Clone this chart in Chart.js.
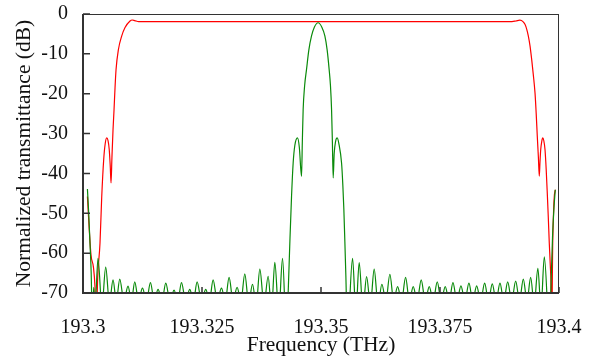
<!DOCTYPE html>
<html>
<head>
<meta charset="utf-8">
<script src="https://cdn.jsdelivr.net/npm/chart.js@4.4.0/dist/chart.umd.min.js"></script>
<style>
  body { margin: 0; background: #fff; }
  #wrap { width: 590px; height: 358px; }
</style>
</head>
<body>
<div id="wrap"><canvas id="chart" width="590" height="358"></canvas></div>
<script>
// frequency axis ticks (THz) and dB ticks
const xTicks = [193.3, 193.325, 193.35, 193.375, 193.4];
const yTicks = [0, -10, -20, -30, -40, -50, -60, -70];

// green: narrow filter response
const greenFreq = [
  193.30093, 193.30120, 193.30147, 193.30172, 193.30193, 193.30225, 193.30256, 193.30315,
  193.30397, 193.30477, 193.30555, 193.30631, 193.30700, 193.30772, 193.30860, 193.30946,
  193.31018, 193.31087, 193.31167, 193.31249, 193.31333, 193.31417, 193.31497, 193.31577,
  193.31659, 193.31739, 193.31827, 193.31913, 193.31991, 193.32069, 193.32157, 193.32243,
  193.32321, 193.32397, 193.32489, 193.32579, 193.32657, 193.32733, 193.32821, 193.32909,
  193.32989, 193.33069, 193.33153, 193.33237, 193.33319, 193.33399, 193.33481, 193.33561,
  193.33639, 193.33715, 193.33803, 193.33889, 193.33961, 193.34030, 193.34112, 193.34192,
  193.34272, 193.34310, 193.34345, 193.34381, 193.34415, 193.34450, 193.34507, 193.34545,
  193.34591, 193.34608, 193.34625, 193.34656, 193.34696, 193.34745, 193.34801, 193.34860,
  193.34940, 193.35018, 193.35081, 193.35129, 193.35171, 193.35199, 193.35222, 193.35239,
  193.35256, 193.35277, 193.35306, 193.35340, 193.35375, 193.35432, 193.35459, 193.35480,
  193.35501, 193.35523, 193.35554, 193.35663, 193.35733, 193.35802, 193.35880, 193.35958,
  193.36038, 193.36117, 193.36199, 193.36279, 193.36363, 193.36447, 193.36527, 193.36609,
  193.36693, 193.36777, 193.36857, 193.36937, 193.37021, 193.37105, 193.37190, 193.37274,
  193.37358, 193.37442, 193.37526, 193.37610, 193.37692, 193.37772, 193.37856, 193.37940,
  193.38024, 193.38108, 193.38188, 193.38270, 193.38354, 193.38438, 193.38518, 193.38598,
  193.38680, 193.38760, 193.38840, 193.38922, 193.39006, 193.39090, 193.39170, 193.39250,
  193.39328, 193.39405, 193.39479, 193.39556, 193.39622, 193.39691, 193.39801, 193.39832,
  193.39864, 193.39895, 193.39922
];
const greenDb = [
  -43.9, -50, -57.5, -65, -76, -68.6, -73, -61.3,
  -73.5, -63.5, -72.5, -66.7, -72, -66.5, -72, -68.3,
  -72, -67.2, -72, -68.8, -72, -67.4, -72, -69.1,
  -72, -67.5, -72, -69.3, -72, -67.4, -72, -69.1,
  -72, -67.2, -72, -69.1, -72, -66.7, -72, -68.8,
  -72, -66.1, -72, -68.6, -72, -65.2, -72.5, -67.8,
  -73, -64, -73, -65.8, -74, -62.3, -75, -61.3,
  -80, -70, -57.5, -45.8, -37.4, -33, -31.1, -33.5,
  -40.7, -32, -24, -18, -13.9, -9, -5.5, -3.3,
  -2.2, -3.3, -5.5, -9, -13.9, -18, -24, -32,
  -41.1, -35, -32, -31.1, -32.5, -37.4, -43, -49,
  -57, -66, -80, -61.3, -75, -62.4, -74, -65.9,
  -73, -64, -73, -67.8, -72, -65.3, -72, -68.4,
  -72, -66.1, -72, -68.4, -72, -66.7, -72, -68.4,
  -72, -67.2, -72, -68.4, -72, -67.4, -72, -68.2,
  -72, -67.5, -72, -68.2, -72, -67.5, -72, -67.7,
  -72, -67.5, -72, -67.2, -72, -67, -72, -66.5,
  -72, -66.1, -73, -63.8, -74, -60.9, -80, -68,
  -56, -48.5, -44.1
];

// red: wide flat-top filter response
const redFreq = [
  193.30093, 193.30126, 193.30168, 193.30219, 193.30252, 193.30278, 193.30309, 193.30357,
  193.30393, 193.30435, 193.30467, 193.30498, 193.30526, 193.30551, 193.30572, 193.30589,
  193.30608, 193.30631, 193.30652, 193.30673, 193.30694, 193.30744, 193.30814, 193.30883,
  193.30988, 193.31034, 193.31087, 193.31171, 193.35081, 193.39012, 193.39096, 193.39180,
  193.39243, 193.39285, 193.39321, 193.39355, 193.39391, 193.39426, 193.39460, 193.39496,
  193.39521, 193.39544, 193.39567, 193.39586, 193.39601, 193.39616, 193.39637, 193.39658,
  193.39681, 193.39706, 193.39731, 193.39754, 193.39775, 193.39796, 193.39817, 193.39832,
  193.39847, 193.39868, 193.39885, 193.39901, 193.39922
];
const redDb = [
  -45.8, -53, -60.5, -63.5, -68.5, -78, -66, -57.5,
  -46, -36.5, -32.5, -31.1, -31.8, -34, -38, -42.4,
  -36, -29, -24, -18.5, -14, -8.9, -5.5, -3.4,
  -1.75, -1.5, -1.65, -1.9, -1.9, -1.9, -1.75, -1.55,
  -1.9, -2.6, -3.8, -5.5, -8, -11.4, -15.2, -19.8,
  -25, -30.7, -36, -40.7, -37, -34, -32, -31.1,
  -31.8, -34, -39, -45, -51, -57.5, -63, -67.6,
  -78, -57.5, -50, -45.8, -44.1
];

const toPoints = (xs, ys) => xs.map((x, i) => ({ x: x, y: ys[i] }));

// box frame and inward tick marks
const framePlugin = {
  id: 'frame',
  afterDraw(chart) {
    const { ctx, chartArea: a, scales } = chart;
    ctx.save();
    ctx.strokeStyle = '#333';
    ctx.lineWidth = 1;
    ctx.strokeRect(a.left, a.top + 0.5, a.right - a.left - 0.5, a.bottom - a.top);
    ctx.lineWidth = 2;
    ctx.beginPath();
    ctx.moveTo(a.left, a.top);
    ctx.lineTo(a.left, a.bottom);
    ctx.lineTo(a.right, a.bottom);
    ctx.stroke();
    ctx.lineWidth = 1.5;
    ctx.beginPath();
    scales.y.ticks.forEach(t => {
      const y = scales.y.getPixelForValue(t.value);
      ctx.moveTo(a.left, y);
      ctx.lineTo(a.left + 7, y);
    });
    scales.x.ticks.forEach(t => {
      const x = scales.x.getPixelForValue(t.value);
      ctx.moveTo(x, a.bottom);
      ctx.lineTo(x, a.bottom - 6);
    });
    ctx.stroke();
    ctx.restore();
  }
};

const serif = '"Liberation Serif", "Times New Roman", serif';

new Chart(document.getElementById('chart'), {
  type: 'line',
  data: {
    datasets: [
      {
        label: 'narrow',
        data: toPoints(greenFreq, greenDb),
        borderColor: '#0a8a0a',
        borderWidth: 1.2,
        pointRadius: 0,
        tension: 0.4,
        cubicInterpolationMode: 'monotone'
      },
      {
        label: 'wide',
        data: toPoints(redFreq, redDb),
        borderColor: '#ff0000',
        borderWidth: 1.2,
        pointRadius: 0,
        tension: 0.4,
        cubicInterpolationMode: 'monotone'
      }
    ]
  },
  options: {
    responsive: false,
    animation: false,
    layout: { padding: { top: 14, right: 31, left: 0, bottom: 0 } },
    plugins: {
      legend: { display: false },
      tooltip: { enabled: false }
    },
    scales: {
      x: {
        type: 'linear',
        min: 193.3,
        max: 193.4,
        afterBuildTicks: scale => { scale.ticks = xTicks.map(v => ({ value: v })); },
        afterFit: scale => {
          scale.height = 65;
          scale.paddingLeft = 0;
          scale.paddingRight = 0;
        },
        grid: { display: false, drawTicks: false },
        border: { display: false },
        ticks: {
          padding: 23,
          color: '#111',
          font: { family: serif, size: 20 },
          callback: v => Number(v.toFixed(3)).toString()
        },
        title: {
          display: true,
          text: 'Frequency (THz)',
          color: '#111',
          font: { family: serif, size: 21.5 },
          padding: { top: 0, bottom: 0 }
        }
      },
      y: {
        min: -70,
        max: 0,
        afterBuildTicks: scale => { scale.ticks = yTicks.map(v => ({ value: v })); },
        afterFit: scale => {
          scale.width = 83;
          scale.paddingTop = 0;
          scale.paddingBottom = 0;
        },
        grid: { display: false, drawTicks: false },
        border: { display: false },
        ticks: {
          padding: 15,
          color: '#111',
          font: { family: serif, size: 20 },
          callback: v => String(v)
        },
        title: {
          display: true,
          text: 'Normalized transmittance (dB)',
          color: '#111',
          font: { family: serif, size: 21.5 },
          padding: { top: 11, bottom: 0 }
        }
      }
    }
  },
  plugins: [framePlugin]
});
</script>
</body>
</html>
